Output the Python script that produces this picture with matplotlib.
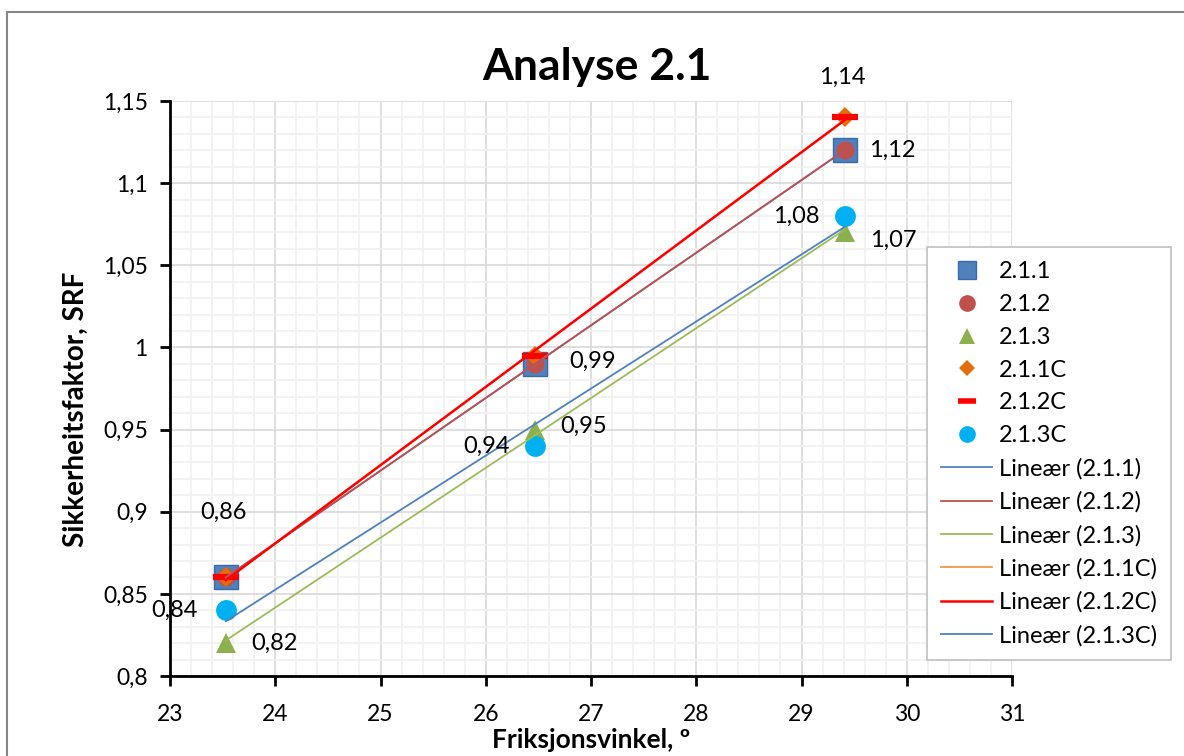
import numpy as np
import matplotlib
matplotlib.use('Agg')
import matplotlib.pyplot as plt
from matplotlib.ticker import FuncFormatter, MultipleLocator
from matplotlib.lines import Line2D

plt.rcParams['font.family'] = ['Lato', 'DejaVu Sans']

# friksjonsvinkel (grader)
vinkel = [23.53, 26.47, 29.41]

# sikkerheitsfaktor per analyse
srf_211 = [0.86, 0.99, 1.12]
srf_212 = [0.86, 0.99, 1.12]
srf_213 = [0.82, 0.95, 1.07]
srf_211c = [0.86, 0.995, 1.14]
srf_212c = [0.86, 0.995, 1.14]
srf_213c = [0.84, 0.94, 1.08]

namn = ['2.1.1', '2.1.2', '2.1.3', '2.1.1C', '2.1.2C', '2.1.3C']

# dataetikettar: tekst, x, y
etikettar = ['0,86', '0,84', '0,82', '0,99', '0,95', '0,94', '1,14', '1,12', '1,08', '1,07']
etikett_x = [23.53, 23.53, 23.53, 26.47, 26.47, 26.47, 29.41, 29.41, 29.41, 29.41]
etikett_y = [0.86, 0.84, 0.82, 0.99, 0.95, 0.94, 1.14, 1.12, 1.08, 1.07]
# forskyving i punkt
etikett_dx = [-2, -37, 35, 41, 35, -35, -2, 34, -35, 35]
etikett_dy = [47, 0, 0, 2, 2, 0, 29, 0, 0, -6]

fig = plt.figure(figsize=(11.84, 7.56), dpi=100)
ax = fig.add_axes([170/1184, 1-676/756, (1012-170)/1184, (676-101)/756])

serier = [srf_211, srf_212, srf_213, srf_211c, srf_212c, srf_213c]
stil = [
    dict(marker='s', color='#4F81BD', ms=17, mec='#3A6AA5', mew=1),
    dict(marker='o', color='#C0504D', ms=13, mec='#C0504D', mew=0),
    dict(marker='^', color='#8DB04E', ms=15, mec='#8DB04E', mew=0),
    dict(marker='D', color='#E46C0A', ms=10, mec='#E46C0A', mew=0),
    dict(marker='_', color='#FF0000', ms=19, mec='#FF0000', mew=4.5),
    dict(marker='o', color='#00B0F0', ms=15, mec='#00B0F0', mew=0),
]
leg_ms = [13, 12, 12, 8, 13, 12]
handtak = []
for y, s, lm in zip(serier, stil, leg_ms):
    ax.plot(vinkel, y, linestyle='none', zorder=3, **s)
    handtak.append(Line2D([], [], linestyle='none', marker=s['marker'], color=s['color'],
                          ms=lm, mec=s['mec'], mew=min(s['mew'], 4)))

# lineære trendlinjer
trend_farge = ['#4F81BD', '#C0504D', '#9BBB59', '#F79646', '#FF0000', '#4F81BD']
trend_bredd = [1.3, 1.3, 1.3, 1.3, 1.8, 1.3]
xs = np.array([min(vinkel), max(vinkel)])
for y, f, b in zip(serier, trend_farge, trend_bredd):
    k, m = np.polyfit(vinkel, y, 1)
    ax.plot(xs, k * xs + m, color=f, lw=b, zorder=4)
    handtak.append(Line2D([], [], color=f, lw=b))
etikett_namn = namn + ['Lineær (%s)' % n for n in namn]

for t, x, y, dx, dy in zip(etikettar, etikett_x, etikett_y, etikett_dx, etikett_dy):
    ax.annotate(t, (x, y), xytext=(dx, dy), textcoords='offset points',
                ha='center', va='center', fontsize=17, zorder=5)

ax.set_xlim(23, 31)
ax.set_ylim(0.8, 1.15)
ax.xaxis.set_major_locator(MultipleLocator(1))
ax.xaxis.set_minor_locator(MultipleLocator(0.2))
ax.yaxis.set_major_locator(MultipleLocator(0.05))
ax.yaxis.set_minor_locator(MultipleLocator(0.01))
ax.yaxis.set_major_formatter(FuncFormatter(lambda v, p: ('%g' % round(v, 2)).replace('.', ',')))
ax.grid(which='major', color='#D9D9D9', lw=1.2)
ax.grid(which='minor', color='#F0F0F0', lw=1.2)
ax.set_axisbelow(True)
ax.tick_params(which='major', direction='out', length=7, width=2, labelsize=16.5)
ax.tick_params(axis='x', which='major', pad=13)
ax.tick_params(axis='y', which='major', pad=9)
ax.tick_params(which='minor', length=0)
for sp in ['top', 'right']:
    ax.spines[sp].set_visible(False)
for sp in ['left', 'bottom']:
    ax.spines[sp].set_linewidth(2)

fig.text(597/1184, 1-80/756, 'Analyse 2.1', fontsize=32, fontweight='bold',
         ha='center', va='baseline')
ax.set_xlabel('Friksjonsvinkel, º', fontsize=19, fontweight='bold', labelpad=2)
ax.set_ylabel('Sikkerheitsfaktor, SRF', fontsize=20, fontweight='bold')
ax.yaxis.set_label_coords(-0.096, 0.464)

leg = fig.legend(handtak, etikett_namn, loc='upper left',
                 bbox_to_anchor=(927/1184, 1-247/756), borderaxespad=0, fontsize=17,
                 frameon=True, fancybox=False, edgecolor='#BFBFBF', framealpha=1,
                 handlelength=2.15, labelspacing=0.5, borderpad=0.6, handletextpad=0.3)
leg.get_frame().set_linewidth(1.2)

# ytre ramme
fig.add_artist(Line2D([7/1184, 7/1184], [0, 1-12/756], color='#868686', lw=1.5, transform=fig.transFigure))
fig.add_artist(Line2D([7/1184, 1], [1-12/756, 1-12/756], color='#868686', lw=1.5, transform=fig.transFigure))

fig.savefig('out.png', dpi=100)
